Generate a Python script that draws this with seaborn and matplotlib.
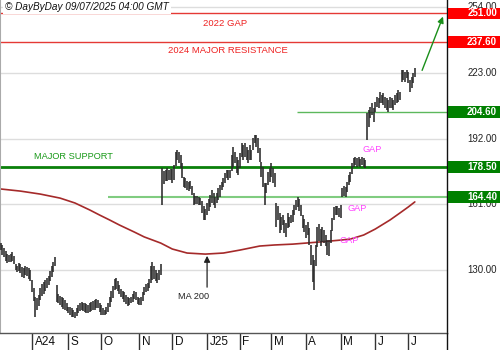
import numpy as np
import pandas as pd
import matplotlib
matplotlib.use("Agg")
import matplotlib.pyplot as plt
import matplotlib.transforms as mtransforms
from matplotlib.patches import Rectangle
from matplotlib.lines import Line2D
import seaborn as sns

# ---------------- data ----------------
start_date = "2024-07-05"
end_date = "2025-07-08"
holidays = ["2024-09-02", "2024-11-28", "2024-12-25", "2025-01-01", "2025-01-09",
            "2025-01-20", "2025-02-17", "2025-04-18", "2025-05-26", "2025-06-19",
            "2025-07-04"]

highs = [
    142.7, 141.8, 140.4, 139.0, 137.5, 137.1, 137.5, 138.5, 136.6, 132.8,
    131.9, 133.3, 132.8, 131.4, 130.9, 131.9, 131.4, 130.9, 130.0, 125.3,
    121.5, 117.3, 116.8, 118.2, 121.5, 123.4, 124.3, 125.3, 126.2, 127.2,
    129.5, 131.9, 133.8, 136.1,
    122.9, 118.7, 117.7, 117.3, 116.8, 115.9, 114.4, 112.6, 112.6, 112.1,
    111.1, 110.2, 112.1, 113.5, 114.4, 114.9, 114.4, 114.4, 114.0, 113.5,
    114.4, 114.9, 115.4, 115.9, 116.3, 115.9, 114.4, 113.5, 112.1, 111.1,
    112.6, 114.4, 117.3, 120.1, 122.5, 125.8, 126.2, 124.8, 122.9, 121.0,
    120.1, 119.6, 118.2, 117.3, 116.8, 117.3, 118.7, 120.1, 119.6, 117.3,
    116.8, 117.3, 119.6, 122.0, 123.4, 123.9, 125.8, 131.9, 133.8, 131.9,
    130.0, 128.6, 130.0, 132.8,
    178.1, 176.7, 177.1, 178.1, 177.1, 177.6, 177.6, 179.5, 185.6, 186.6,
    185.6, 184.2, 180.4, 173.8, 173.4, 172.0, 171.5, 172.0, 169.6, 166.3,
    164.9, 164.9, 164.4, 163.9, 162.5, 160.2, 158.8, 161.6, 163.5, 165.4,
    167.7, 166.3, 164.4, 166.3, 168.7, 170.1, 171.5, 173.4, 175.7, 177.1,
    177.1, 177.1, 184.2, 188.0, 185.6, 183.3, 181.9, 185.2, 189.9, 188.9,
    189.9, 188.0, 186.6, 188.9, 186.6, 192.2, 193.6, 193.6, 192.2, 187.5,
    180.9, 178.6, 171.0, 171.0, 176.2, 178.1, 180.4, 178.1, 175.7, 161.6,
    160.2, 156.9, 155.0, 155.9, 153.6, 152.2, 156.9, 155.0, 155.9, 158.3,
    160.6, 163.0, 164.4, 163.5, 160.6, 155.9, 154.0, 151.2, 152.6, 149.8,
    141.8, 137.1, 134.7, 141.8, 150.3, 151.7, 149.3, 150.3, 148.9, 146.5,
    144.1, 144.1, 148.9, 154.5, 159.7, 160.2, 160.2, 159.2, 160.6, 168.7,
    169.6, 169.1, 171.5, 174.8, 176.2, 180.4, 182.8, 183.3, 182.8, 183.3,
    182.3, 183.3, 182.8, 181.9, 204.0, 205.4, 206.8, 208.7, 206.4, 209.2,
    211.6, 211.1, 213.9, 212.5, 213.5, 211.6, 211.1, 210.2, 211.6, 211.1,
    210.2, 212.5, 213.5, 214.9, 213.9, 224.3, 224.3, 223.4, 224.3, 223.4,
    219.6, 221.0, 222.9, 225.2,
]

lows = [
    139.4, 137.1, 136.1, 134.2, 133.3, 133.8, 133.8, 134.2, 132.8, 130.0,
    129.1, 129.5, 128.6, 126.7, 126.2, 127.6, 127.2, 125.8, 124.8, 119.6,
    115.4, 107.8, 111.1, 113.0, 115.9, 117.7, 118.7, 120.1, 121.5, 122.9,
    124.8, 126.7, 129.1, 131.9,
    114.9, 114.4, 113.5, 112.6, 111.6, 111.1, 110.7, 109.7, 108.8, 107.8,
    107.8, 107.4, 108.3, 109.7, 110.7, 111.1, 110.7, 110.2, 109.7, 109.7,
    110.2, 110.7, 111.1, 111.1, 112.1, 112.1, 110.2, 108.8, 108.8, 108.8,
    109.3, 110.2, 112.6, 114.9, 116.8, 120.6, 121.0, 120.1, 118.7, 117.3,
    116.3, 114.9, 114.0, 113.0, 113.5, 114.4, 114.9, 116.3, 115.9, 114.0,
    113.5, 113.5, 115.4, 118.2, 119.6, 120.1, 121.5, 123.9, 125.3, 125.8,
    124.8, 123.9, 125.3, 127.6,
    160.6, 170.5, 172.0, 172.0, 172.4, 172.4, 170.9, 172.4, 179.0, 181.9,
    180.4, 178.1, 173.4, 169.1, 168.7, 167.7, 167.2, 168.2, 165.4, 160.6,
    161.1, 161.1, 160.6, 160.6, 156.9, 153.6, 153.6, 155.9, 157.8, 159.7,
    161.6, 160.6, 159.2, 161.6, 163.0, 164.4, 167.7, 169.1, 171.0, 173.4,
    172.4, 173.4, 176.7, 178.6, 180.4, 175.7, 174.8, 178.1, 183.3, 181.9,
    183.3, 181.9, 180.4, 181.9, 181.9, 186.6, 189.9, 188.0, 185.2, 180.9,
    173.8, 169.1, 160.6, 166.3, 170.1, 171.5, 173.8, 171.0, 169.1, 150.3,
    153.6, 147.4, 148.9, 151.2, 147.4, 145.6, 149.8, 150.3, 152.2, 152.6,
    155.9, 158.3, 159.7, 157.8, 155.5, 149.8, 147.9, 145.1, 146.5, 141.8,
    132.4, 124.3, 120.6, 131.9, 140.8, 143.7, 141.3, 143.2, 142.7, 141.3,
    137.1, 136.6, 142.7, 148.4, 153.6, 155.9, 155.9, 155.0, 154.5, 164.4,
    164.9, 164.4, 166.8, 170.1, 171.5, 175.3, 178.6, 179.5, 178.6, 179.0,
    178.6, 179.5, 178.6, 178.1, 191.3, 197.4, 201.7, 203.1, 199.8, 204.5,
    206.8, 206.4, 208.7, 208.7, 207.8, 206.4, 205.4, 204.5, 206.4, 206.4,
    205.4, 207.8, 208.7, 209.2, 210.2, 218.6, 219.6, 218.6, 220.5, 218.2,
    213.9, 215.8, 218.2, 221.0,
]

ma_idx = [0, 12, 24, 36, 45, 54, 60, 66, 72, 81, 87, 97, 104, 113, 124, 135,
          145, 157, 166, 177, 193, 206, 212, 220, 227, 236, 242, 247, 251]
ma_vals = [168.2, 167.2, 165.8, 163.9, 161.6, 158.3, 155.9, 153.6, 151.2, 147.9,
           145.6, 142.7, 139.9, 138.0, 137.5, 138.0, 139.4, 141.3, 141.8, 142.2,
           143.2, 144.1, 144.6, 146.5, 149.3, 153.6, 156.9, 159.7, 162.1]

month_labels = ["A24", "S", "O", "N", "D", "J25", "F", "M", "A", "M", "J", "J"]
grid_levels = [130, 161, 192, 223, 254]
red_levels = [251.0, 237.6]
green_levels = [204.6, 178.5, 164.4]

# ---------------- styling ----------------
sns.set_style("white")
plt.rcParams["font.family"] = ["Liberation Sans", "DejaVu Sans"]

dates = pd.bdate_range(start_date, end_date, freq="C", holidays=holidays)
idx = np.arange(len(dates))
df = pd.DataFrame({"date": dates, "i": idx, "high": highs, "low": lows})
ma_df = pd.DataFrame({"i": ma_idx, "ma": ma_vals})

fig = plt.figure(figsize=(5, 3.5), dpi=100)
ax = fig.add_axes([0, 17 / 350, 447 / 500, 333 / 350])
ax.set_xlim(-0.4, 270.5)
ax.set_ylim(100.3, 257.3)

for g in grid_levels:
    ax.axhline(g, color="#dddddd", lw=1, zorder=0)

# MA 200
sns.lineplot(data=ma_df, x="i", y="ma", ax=ax, color="#a52a2a", lw=1.2, zorder=2)

# level lines
ax.axhline(red_levels[0], color="#e53935", lw=1, zorder=1)
ax.axhline(red_levels[1], color="#e53935", lw=1, zorder=1)
ax.hlines(green_levels[0], 179.6, 270.5, color="#5cb85c", lw=1, zorder=1)
ax.axhline(green_levels[1], color="#0a800a", lw=2, zorder=1)
ax.hlines(green_levels[2], 65, 270.5, color="#80cc80", lw=1.5, zorder=1)

# price bars
ax.vlines(df["i"], df["low"], df["high"], color="#2a2a2a", lw=1.15, zorder=3)

# annotations
ax.text(122.6, 246.2, "2022 GAP", color="#ee2222", fontsize=6.8, va="center", ha="left")
ax.text(101.4, 233.7, "2024 MAJOR RESISTANCE", color="#ee2222", fontsize=6.8, va="center", ha="left")
ax.text(20.2, 183.3, "MAJOR SUPPORT", color="#1a9a1a", fontsize=6.7, va="center", ha="left")
for gx, gy in [(225.1, 186.6), (216.0, 158.8), (211.1, 143.7)]:
    ax.text(gx, gy, "GAP", color="#ff44ff", fontsize=6.6, va="center", ha="center", zorder=4)
ax.text(117.2, 117.3, "MA 200", color="#222222", fontsize=6.6, va="center", ha="center")
ax.annotate("", xy=(125.1, 138.0), xytext=(125.1, 120.6),
            arrowprops=dict(arrowstyle="-|>", color="#222222", lw=0.9, mutation_scale=9))
ax.annotate("", xy=(268.7, 250.7), xytext=(254.8, 222.9),
            arrowprops=dict(arrowstyle="-|>", color="#1a8f1a", lw=1, mutation_scale=9))

ax.text(5 / 447, 1 - 6.5 / 333, "\u00a9 DayByDay 09/07/2025 04:00 GMT", transform=ax.transAxes,
        fontsize=7.2, style="italic", color="#111111", va="center", ha="left",
        bbox=dict(facecolor="white", edgecolor="none", pad=1.5), zorder=6)

# right side labels
trans_r = mtransforms.blended_transform_factory(ax.transAxes, ax.transData)
for g in grid_levels:
    ax.text(497 / 447, g, f"{g:.2f}", transform=trans_r, ha="right", va="center",
            fontsize=7, color="#222222", clip_on=False)
box_h = 11.5 / 2.121
for lv, col in [(v, "#ff0000") for v in red_levels] + [(v, "#008000") for v in green_levels]:
    ax.add_patch(Rectangle((448 / 447, lv - box_h / 2), 52 / 447, box_h, transform=trans_r,
                           facecolor=col, edgecolor="none", clip_on=False, zorder=7))
    ax.text(497 / 447, lv, f"{lv:.2f}", transform=trans_r, ha="right", va="center",
            fontsize=7, fontweight="bold", color="white", clip_on=False, zorder=8)

# month axis
month_start = df.groupby(df["date"].dt.to_period("M"))["i"].min().values[1:]
ax.set_yticks([])
ax.set_xticks(month_start)
ax.set_xticklabels([])
ax.tick_params(axis="x", length=12.2, width=1, color="#333333", direction="out", bottom=True)
trans_b = mtransforms.blended_transform_factory(ax.transData, ax.transAxes)
for m, lab in zip(month_start, month_labels):
    ax.text(m + 2.5 / 1.65, -9 / 333, lab, transform=trans_b, ha="left", va="center",
            fontsize=8.5, color="#111111", clip_on=False)

ax.spines["top"].set_visible(False)
ax.spines["left"].set_color("#aaaaaa")
ax.spines["left"].set_linewidth(1.5)
ax.spines["bottom"].set_color("#555555")
ax.spines["bottom"].set_linewidth(1)
ax.spines["right"].set_color("#111111")
ax.spines["right"].set_linewidth(1)
ax.set_xlabel("")
ax.set_ylabel("")
fig.add_artist(Line2D([447 / 500, 447 / 500], [0, 17 / 350], color="#111111", lw=1))

fig.savefig("out.png", dpi=100)
